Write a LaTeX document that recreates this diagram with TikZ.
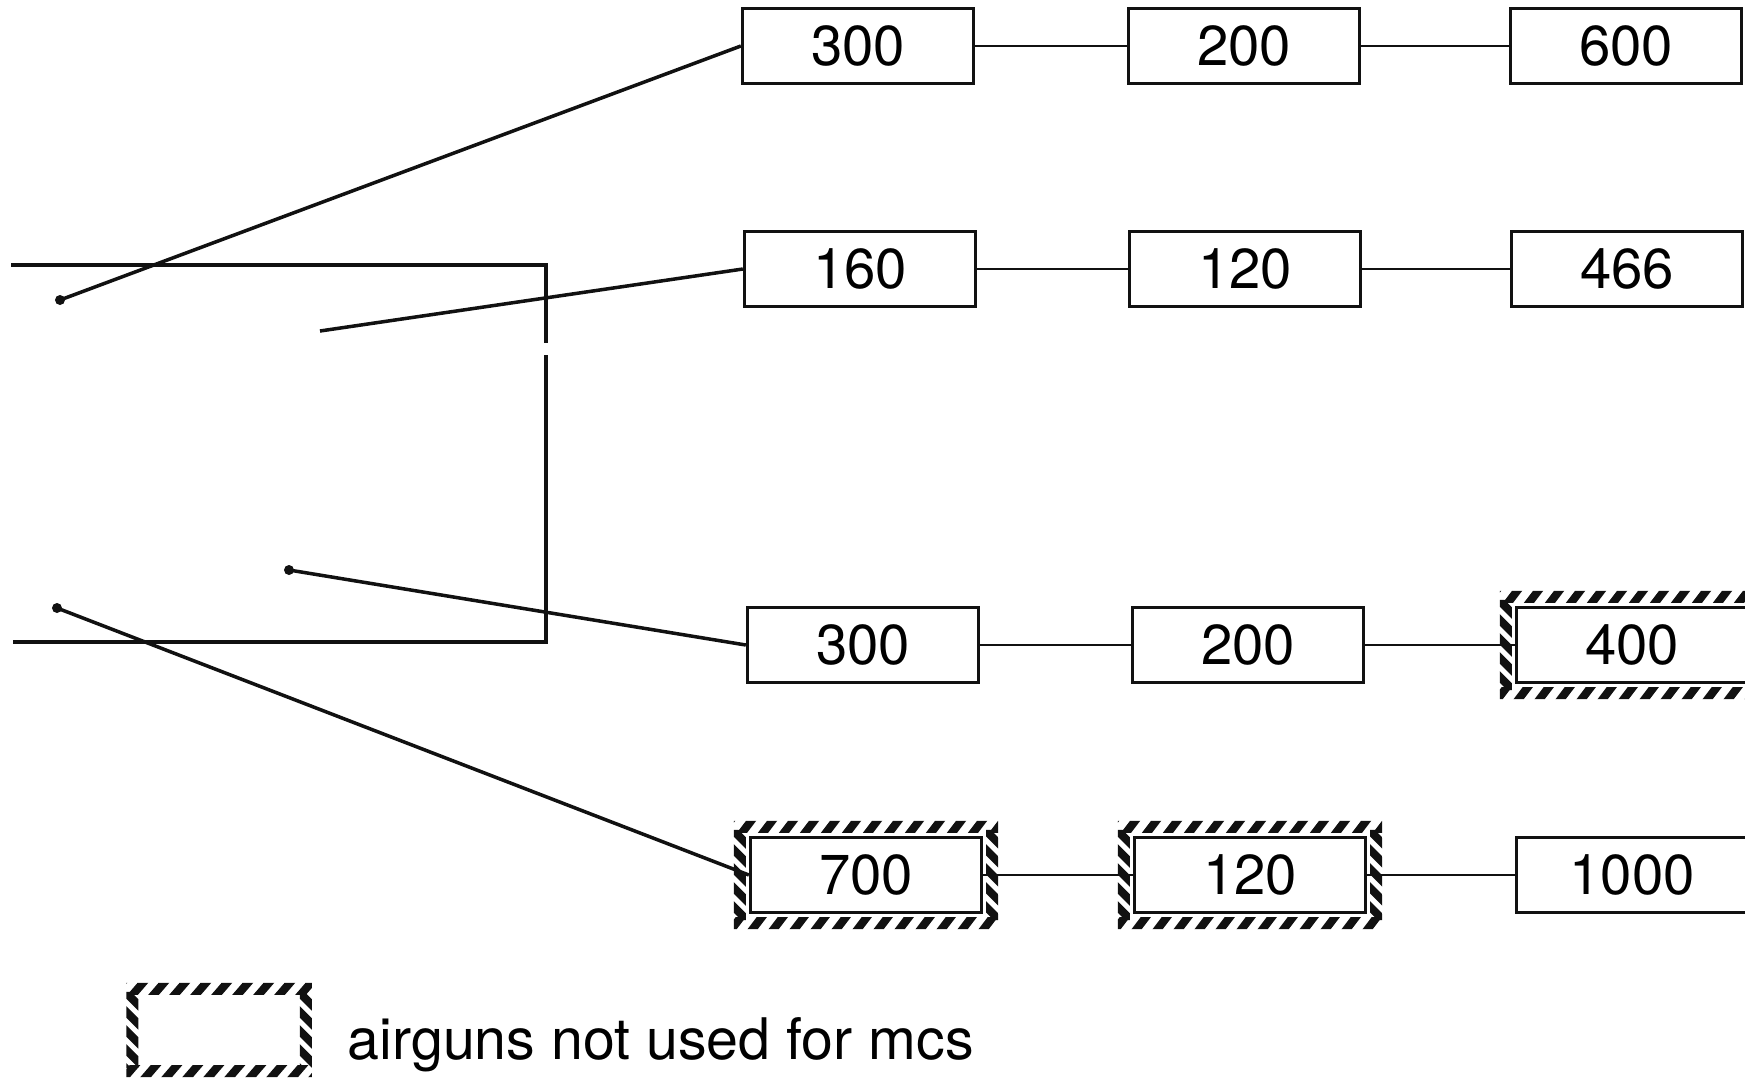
\documentclass[tikz,border=0pt]{standalone}
\usepackage{fontspec}
\setmainfont{TeX Gyre Heros}
\usetikzlibrary{calc,positioning}
\definecolor{Ink}{HTML}{111111}
\tikzset{
  gunbox/.style={draw=Ink, line width=0.9pt, fill=white, minimum width=2.31cm,
             minimum height=0.75cm, inner sep=0pt, font=\fontsize{16}{18}\selectfont},
  legbox/.style={minimum width=1.54cm, minimum height=0.63cm, inner sep=0pt},
  link/.style={line width=0.6pt, draw=Ink},
  tow/.style={line width=1pt, draw=Ink},
  frame/.style={line width=1.2pt, draw=Ink, line join=miter},
  hatch/.style={line width=2.3pt, draw=Ink},
  gun/.style={circle, fill=Ink, inner sep=0pt, minimum size=0.1cm},
  legtext/.style={font=\fontsize{16.3}{18}\selectfont, anchor=base west, inner sep=0pt},
}
\newcommand{\hatchframe}[1]{%
  \begin{scope}
    \clip ($(#1.north west)+(-15,-15)$) rectangle ($(#1.north east)+(15,-3)$)
          ($(#1.south west)+(-15,3)$) rectangle ($(#1.south east)+(15,15)$);
    \foreach \k in {-6,...,15}
      \draw[hatch] ($(#1.south west)+(\k*21,20)$) -- ($(#1.north west)+(\k*21+90,-20)$);
  \end{scope}
  \begin{scope}
    \clip ($(#1.north west)+(-15,-6)$) rectangle ($(#1.south west)+(-3,6)$)
          ($(#1.north east)+(3,-6)$) rectangle ($(#1.south east)+(15,6)$);
    \foreach \k in {-1,...,5} {
      \draw[hatch] ($(#1.north west)+(-18,\k*19-8)$) -- ($(#1.north west)+(0,\k*19+10)$);
      \draw[hatch] ($(#1.north east)+(0,\k*19-8)$) -- ($(#1.north east)+(18,\k*19+10)$);
    }
  \end{scope}}

\begin{document}
\begin{tikzpicture}[x=0.01cm, y=-0.01cm]
\useasboundingbox (0,0) rectangle (1745,1078);
\coordinate (ftl) at (11,265);
\coordinate (ftr) at (546,265);
\coordinate (fgapa) at (546,343);
\coordinate (fgapb) at (546,355);
\coordinate (fbr) at (546,642);
\coordinate (fbl) at (13,642);
\draw[frame] (ftl) -- (ftr) -- (fgapa);
\draw[frame] (fgapb) -- (fbr) -- (fbl);
\node[gunbox] (a1) at (858,46) {300};
\node[gunbox] (a2) at (1244,46) {200};
\node[gunbox] (a3) at (1626,46) {600};
\node[gunbox] (b1) at (860,269) {160};
\node[gunbox] (b2) at (1245,269) {120};
\node[gunbox] (b3) at (1627,269) {466};
\node[gunbox] (c1) at (863,645) {300};
\node[gunbox] (c2) at (1248,645) {200};
\node[gunbox] (c3) at (1632,645) {400};
\node[gunbox] (d1) at (866,875) {700};
\node[gunbox] (d2) at (1250,875) {120};
\node[gunbox] (d3) at (1632,875) {1000};
\hatchframe{c3}
\hatchframe{d1}
\hatchframe{d2}
\draw[link] (a1) -- (a2);
\draw[link] (a2) -- (a3);
\draw[link] (b1) -- (b2);
\draw[link] (b2) -- (b3);
\draw[link] (c1) -- (c2);
\draw[link] (c2) -- (c3);
\draw[link] (d1) -- (d2);
\draw[link] (d2) -- (d3);
\node[gun] (g1) at (60,300) {};
\coordinate (g2) at (320,331);
\node[gun] (g3) at (289,570) {};
\node[gun] (g4) at (57,608) {};
\draw[tow] (g1.center) -- (a1.west);
\draw[tow] (g2) -- (b1.west);
\draw[tow] (g3.center) -- (c1.west);
\draw[tow] (g4.center) -- (d1.west);
\node[legbox] (legend) at (219,1030) {};
\hatchframe{legend}
\node[legtext] (legnote) at (347,1059) {airguns not used for mcs};
\end{tikzpicture}
\end{document}
